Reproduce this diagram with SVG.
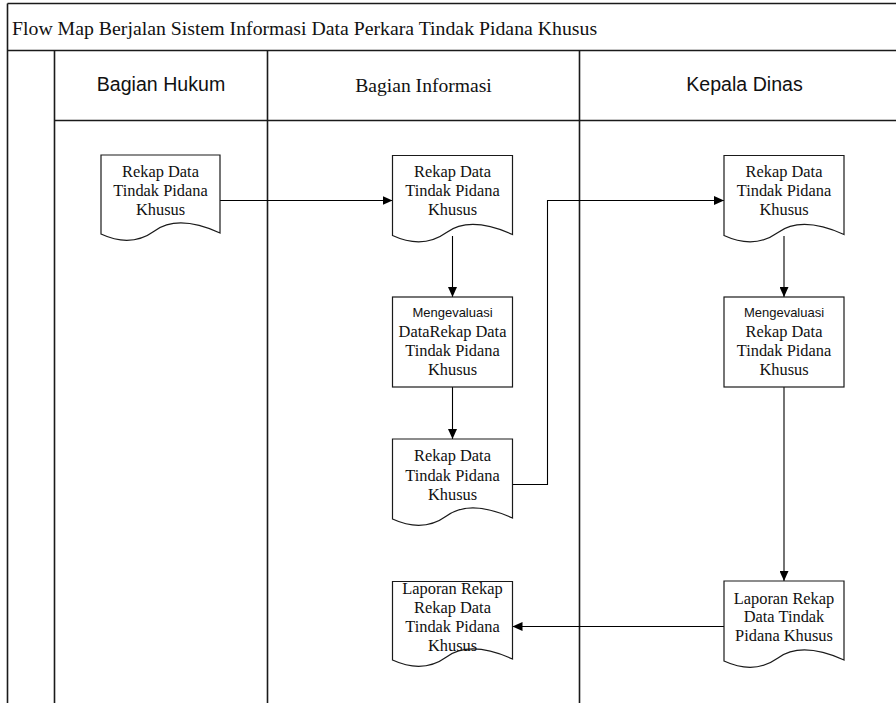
<svg xmlns="http://www.w3.org/2000/svg" width="896" height="703" viewBox="0 0 896 703">
<style>
.frame{stroke:#1a1a1a;stroke-width:1.6;fill:none}
.shape{fill:#fff;stroke:#1a1a1a;stroke-width:1.2}
.conn{fill:none;stroke:#000;stroke-width:1.1}
.serif{font-family:"Liberation Serif","Times New Roman",serif;fill:#111}
.sans{font-family:"Liberation Sans",Arial,sans-serif;fill:#111}
.doc{font-size:16.4px;text-anchor:middle}
.small{font-size:13px;text-anchor:middle}
.hdr{font-size:19.6px;text-anchor:middle}
</style>
<defs>
<marker id="arr" viewBox="0 0 10 9" refX="10" refY="4.5" markerWidth="10" markerHeight="9" markerUnits="userSpaceOnUse" orient="auto">
<path d="M0,0 L10,4.5 L0,9 Z" fill="#000"/>
</marker>
</defs>
<rect width="896" height="703" fill="#fff"/>
<g id="frame">
<line class="frame" x1="7.5" y1="3.5" x2="896" y2="3.5"/>
<line class="frame" x1="7.5" y1="3.5" x2="7.5" y2="703"/>
<line class="frame" x1="7.5" y1="50.5" x2="896" y2="50.5"/>
<line class="frame" x1="54.5" y1="50.5" x2="54.5" y2="703"/>
<line class="frame" x1="54.5" y1="120.5" x2="896" y2="120.5"/>
<line class="frame" x1="267.5" y1="50.5" x2="267.5" y2="703"/>
<line class="frame" x1="579.5" y1="50.5" x2="579.5" y2="703"/>
<text class="serif" x="12" y="34.5" font-size="19.8">Flow Map Berjalan Sistem Informasi Data Perkara Tindak Pidana Khusus</text>
<text class="sans hdr" x="161" y="91">Bagian Hukum</text>
<text class="serif hdr" x="423.5" y="91.5" font-size="19.8">Bagian Informasi</text>
<text class="sans hdr" x="744.5" y="91">Kepala Dinas</text>
</g>
<g id="connectors">
<path class="conn" d="M220,200.5 H392.5" marker-end="url(#arr)"/>
<path class="conn" d="M452.5,236 V297" marker-end="url(#arr)"/>
<path class="conn" d="M452.5,387 V439" marker-end="url(#arr)"/>
<path class="conn" d="M512.5,484.5 H547.5 V200.5 H724" marker-end="url(#arr)"/>
<path class="conn" d="M784,236 V297" marker-end="url(#arr)"/>
<path class="conn" d="M784,387 V581" marker-end="url(#arr)"/>
<path class="conn" d="M724,626.5 H512.5" marker-end="url(#arr)"/>
</g>
<g id="doc-hukum">
<path class="shape" d="M101,234 V155 H220 V233 Q178,214 154.5,231 T101,234 Z"/>
<text class="serif doc" x="160.5" y="176.5">Rekap Data</text>
<text class="serif doc" x="160.5" y="195.5">Tindak Pidana</text>
<text class="serif doc" x="160.5" y="214.5">Khusus</text>
</g>
<g id="doc-info-1">
<path class="shape" d="M392.5,235.5 V155.5 H512.5 V234.5 Q470,215.5 446.5,232.5 T392.5,235.5 Z"/>
<text class="serif doc" x="452.5" y="176.5">Rekap Data</text>
<text class="serif doc" x="452.5" y="196">Tindak Pidana</text>
<text class="serif doc" x="452.5" y="215">Khusus</text>
</g>
<g id="proc-info">
<rect class="shape" x="392.5" y="297" width="120" height="90"/>
<text class="sans small" x="452.5" y="316.5">Mengevaluasi</text>
<text class="serif doc" x="452.5" y="336.5">DataRekap Data</text>
<text class="serif doc" x="452.5" y="356">Tindak Pidana</text>
<text class="serif doc" x="452.5" y="375">Khusus</text>
</g>
<g id="doc-info-2">
<path class="shape" d="M392.5,519 V439 H512.5 V518 Q470,499 446.5,516 T392.5,519 Z"/>
<text class="serif doc" x="452.5" y="461">Rekap Data</text>
<text class="serif doc" x="452.5" y="480.5">Tindak Pidana</text>
<text class="serif doc" x="452.5" y="500">Khusus</text>
</g>
<g id="doc-info-laporan">
<path class="shape" d="M392.5,660 V581.5 H512.5 V659 Q470,640 446.5,657 T392.5,660 Z"/>
<text class="serif doc" x="452.5" y="593.5">Laporan Rekap</text>
<text class="serif doc" x="452.5" y="612.5">Rekap Data</text>
<text class="serif doc" x="452.5" y="632">Tindak Pidana</text>
<text class="serif doc" x="452.5" y="651">Khusus</text>
</g>
<g id="doc-kepala-1">
<path class="shape" d="M724,235.5 V155.5 H844 V234.5 Q801.5,215.5 778,232.5 T724,235.5 Z"/>
<text class="serif doc" x="784" y="176.5">Rekap Data</text>
<text class="serif doc" x="784" y="196">Tindak Pidana</text>
<text class="serif doc" x="784" y="214.5">Khusus</text>
</g>
<g id="proc-kepala">
<rect class="shape" x="724" y="297" width="120" height="90"/>
<text class="sans small" x="784" y="316.5">Mengevaluasi</text>
<text class="serif doc" x="784" y="336.5">Rekap Data</text>
<text class="serif doc" x="784" y="356">Tindak Pidana</text>
<text class="serif doc" x="784" y="375">Khusus</text>
</g>
<g id="doc-kepala-laporan">
<path class="shape" d="M724,661 V581 H844 V660 Q801.5,641 778,658 T724,661 Z"/>
<text class="serif doc" x="784" y="603.5">Laporan Rekap</text>
<text class="serif doc" x="784" y="622">Data Tindak</text>
<text class="serif doc" x="784" y="641">Pidana Khusus</text>
</g>
</svg>
